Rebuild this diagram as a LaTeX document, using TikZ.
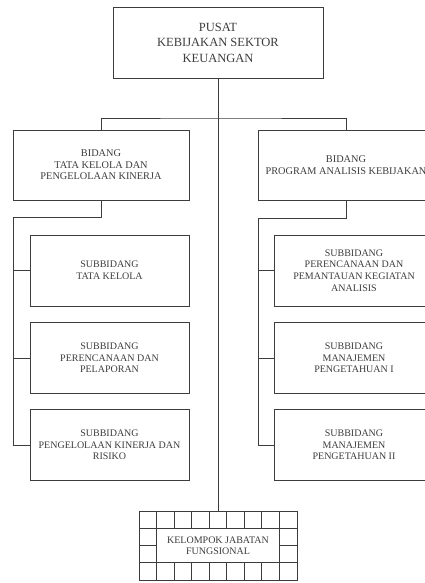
\documentclass[tikz,border=0pt]{standalone}
\usepackage{fontspec}
\setmainfont{Liberation Serif}
\definecolor{garis}{RGB}{60,60,60}

\begin{document}
\begin{tikzpicture}[x=1pt,y=-1pt,
    kotak/.style={draw=garis,line width=0.9pt,text=garis,align=center,inner sep=0pt},
    pusatbox/.style={kotak,minimum width=210,minimum height=71,font=\fontsize{12.5}{15.5}\selectfont},
    bidangbox/.style={kotak,minimum width=176,minimum height=70,font=\fontsize{10.3}{11.5}\selectfont},
    subbox/.style={kotak,minimum width=159,minimum height=71,font=\fontsize{10}{11.7}\selectfont},
    hubung/.style={draw=garis,line width=0.9pt}]
    \clip (0,0) rectangle (425,583);
    % kepala
    \node[pusatbox] (pusat) at (218,42.5) {PUSAT\\KEBIJAKAN SEKTOR\\KEUANGAN};
    % bidang
    \node[bidangbox] (bidangkiri) at (101,165) {BIDANG\\TATA KELOLA DAN\\PENGELOLAAN KINERJA};
    \node[bidangbox] (bidangkanan) at (346,165) {BIDANG\\PROGRAM ANALISIS KEBIJAKAN};
    % subbidang kiri
    \node[subbox] (subkiria) at (109.5,270.5) {SUBBIDANG\\TATA KELOLA};
    \node[subbox] (subkirib) at (109.5,358) {SUBBIDANG\\PERENCANAAN DAN\\PELAPORAN};
    \node[subbox] (subkiric) at (109.5,445) {SUBBIDANG\\PENGELOLAAN KINERJA DAN\\RISIKO};
    % subbidang kanan
    \node[subbox] (subkanana) at (354,270.5) {SUBBIDANG\\PERENCANAAN DAN\\PEMANTAUAN KEGIATAN\\ANALISIS};
    \node[subbox] (subkananb) at (354,358) {SUBBIDANG\\MANAJEMEN\\PENGETAHUAN I};
    \node[subbox] (subkananc) at (354,445) {SUBBIDANG\\MANAJEMEN\\PENGETAHUAN II};
    % kelompok jabatan fungsional
    \node[kotak,minimum width=158,minimum height=69] (fungsional) at (218,545.5) {};
    \foreach \x in {156.6,174.1,191.7,209.2,226.8,244.3,261.9,279.4}
        \draw[hubung] (\x,511) -- (\x,580);
    \foreach \y in {528.25,545.5,562.75}
        \draw[hubung] (139,\y) -- (297,\y);
    \node[kotak,fill=white,minimum width=122.8,minimum height=34.5,font=\fontsize{10}{11}\selectfont] (fungsionalteks) at (218,545.5) {KELOMPOK JABATAN\\FUNGSIONAL};
    % garis
    \coordinate (cabang) at (218,118);
    \coordinate (kiri) at (13,217);
    \coordinate (kanan) at (258,218);
    \draw[hubung] (pusat) -- (fungsional);
    \draw[hubung] (bidangkiri.north) |- (cabang) -| (bidangkanan.north);
    \draw[hubung] (bidangkiri.south) |- (kiri) |- (subkiric.west);
    \draw[hubung] (kiri |- subkiria.west) -- (subkiria.west);
    \draw[hubung] (kiri |- subkirib.west) -- (subkirib.west);
    \draw[hubung] (bidangkanan.south) |- (kanan) |- (subkananc.west);
    \draw[hubung] (kanan |- subkanana.west) -- (subkanana.west);
    \draw[hubung] (kanan |- subkananb.west) -- (subkananb.west);
\end{tikzpicture}
\end{document}
